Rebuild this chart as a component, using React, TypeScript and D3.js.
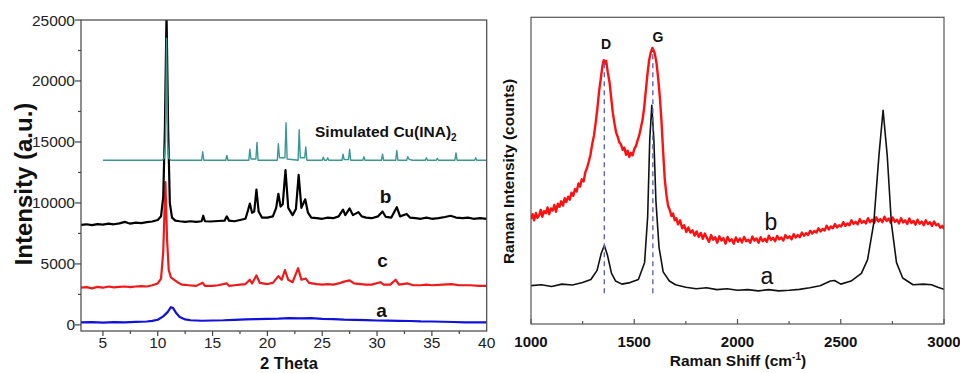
import React from 'react';
import * as d3 from 'd3';

type Pt = [number, number];

// ---- XRD panel (left) ----
const xrdXTicks = [5, 10, 15, 20, 25, 30, 35, 40];
const xrdYTicks = [0, 5000, 10000, 15000, 20000, 25000];

const simulated: Pt[] = [
  [5, 13500], [10.4, 13500], [10.6, 13700], [10.7, 15000], [10.8, 23500], [10.9, 15000], [11.0, 13700], [11.2, 13500],
  [14.0, 13500], [14.1, 14200], [14.2, 13500], [16.2, 13500], [16.3, 13900], [16.4, 13500],
  [18.3, 13500], [18.4, 14400], [18.5, 13600], [18.95, 13600], [19.05, 14950], [19.15, 13500],
  [20.9, 13500], [21.0, 14850], [21.1, 13700], [21.6, 13700], [21.7, 16580], [21.8, 13600],
  [22.8, 13500], [22.9, 16000], [23.0, 13700], [23.4, 13700], [23.5, 14600], [23.6, 13500],
  [25.0, 13500], [25.1, 13750], [25.2, 13500], [25.4, 13500], [25.5, 13700], [25.6, 13500],
  [26.8, 13500], [26.9, 14000], [27.0, 13550], [27.4, 13550], [27.5, 14400], [27.6, 13500],
  [28.7, 13500], [28.8, 13800], [28.9, 13500], [30.4, 13500], [30.5, 14000], [30.6, 13500],
  [31.7, 13500], [31.8, 14300], [31.9, 13500], [32.7, 13500], [32.8, 13800], [32.9, 13600], [33.2, 13500],
  [34.4, 13500], [34.5, 13700], [34.6, 13500], [35.4, 13500], [35.5, 13650], [35.6, 13500],
  [37.1, 13500], [37.2, 14100], [37.3, 13500], [38.9, 13500], [39.0, 13700], [39.1, 13500], [40, 13500],
];

const sampleB: Pt[] = [
  [3, 8200], [3.5, 8250], [4, 8180], [4.5, 8260], [5, 8220], [5.5, 8300], [6, 8250], [6.5, 8320], [7, 8450],
  [7.3, 8350], [7.5, 8300], [8, 8380], [8.5, 8350], [9, 8420], [9.5, 8480], [10, 8600], [10.3, 8900],
  [10.5, 10500], [10.65, 16000], [10.8, 25500], [10.95, 16000], [11.1, 10000], [11.3, 8800], [11.6, 8550],
  [12, 8500], [12.5, 8450], [13, 8500], [13.5, 8450], [14, 8500], [14.15, 8950], [14.3, 8500], [14.8, 8480],
  [15.5, 8520], [16.1, 8550], [16.3, 8900], [16.5, 8550], [17, 8500], [17.5, 8600], [18, 8700], [18.2, 9300],
  [18.4, 9950], [18.6, 9200], [18.8, 9300], [19.0, 11100], [19.2, 9300], [19.5, 8800], [20, 8800], [20.5, 8900],
  [20.8, 9600], [21.0, 10750], [21.2, 9700], [21.4, 9900], [21.65, 12700], [21.9, 9600], [22.3, 9000],
  [22.6, 9500], [22.85, 12300], [23.1, 9600], [23.45, 10300], [23.7, 9200], [24, 8800], [24.5, 8750],
  [25, 8700], [25.5, 8800], [26, 8750], [26.5, 8900], [26.9, 9450], [27.1, 9000], [27.5, 9550], [27.8, 9000],
  [28.3, 9250], [28.6, 8900], [29, 8800], [29.5, 8750], [30.1, 8900], [30.5, 9300], [30.8, 8850], [31.3, 8800],
  [31.8, 9650], [32.1, 8900], [32.7, 9100], [33, 8800], [33.5, 8750], [34, 8700], [34.5, 8800], [35, 8700],
  [35.6, 8750], [36.2, 8850], [36.7, 8950], [37.2, 8800], [37.8, 8750], [38.3, 8800], [38.8, 8700],
  [39.4, 8750], [40, 8700],
];

const sampleC: Pt[] = [
  [3, 3050], [3.5, 3100], [4, 3000], [4.5, 3120], [5, 3050], [5.5, 3150], [6, 3080], [6.5, 3120], [7, 3150],
  [7.5, 3100], [8, 3150], [8.5, 3180], [9, 3150], [9.5, 3250], [10, 3400], [10.3, 3800], [10.5, 6000],
  [10.7, 11700], [10.85, 7000], [11.0, 4500], [11.2, 3900], [11.5, 3700], [11.8, 3500], [12.2, 3300],
  [12.8, 3250], [13.5, 3200], [14.1, 3450], [14.3, 3200], [15, 3200], [15.5, 3250], [16.3, 3400], [16.5, 3200],
  [17, 3250], [17.5, 3300], [18, 3350], [18.4, 3700], [18.6, 3400], [19.0, 4050], [19.3, 3450], [20, 3350],
  [20.5, 3450], [21.0, 4000], [21.3, 3700], [21.6, 4500], [21.9, 3700], [22.3, 3500], [22.8, 4650],
  [23.1, 3700], [23.5, 3800], [23.8, 3450], [24.5, 3350], [25, 3300], [25.5, 3350], [26, 3300], [26.5, 3400],
  [27, 3550], [27.5, 3650], [27.9, 3400], [28.5, 3350], [29, 3300], [29.5, 3300], [30.3, 3500], [30.6, 3300],
  [31.2, 3300], [31.7, 3700], [32, 3300], [32.8, 3400], [33.3, 3250], [34, 3250], [34.5, 3300], [35, 3250],
  [36, 3300], [36.8, 3350], [37.5, 3250], [38.5, 3250], [39.3, 3200], [40, 3200],
];

const sampleA: Pt[] = [
  [3, 200], [4, 220], [5, 190], [6, 230], [7, 210], [8, 250], [9, 280], [9.5, 330], [10, 420], [10.5, 700],
  [10.9, 1050], [11.2, 1450], [11.4, 1380], [11.7, 950], [12, 650], [12.5, 450], [13, 380], [14, 340],
  [15, 360], [16, 380], [17, 420], [18, 450], [19, 480], [20, 500], [21, 520], [22, 560], [23, 530],
  [24, 560], [25, 500], [26, 480], [27, 440], [28, 420], [29, 390], [30, 360], [31, 350], [32, 330],
  [33, 320], [34, 290], [35, 280], [36, 260], [37, 240], [38, 200], [39, 210], [40, 200],
];

// ---- Raman panel (right) ----
const ramanXTicks = [1000, 1500, 2000, 2500, 3000];
const bandLines = [
  { name: 'D', shift: 1355, top: 850 },
  { name: 'G', shift: 1590, top: 895 },
];

const ramanA: Pt[] = [
  [1000, 125], [1050, 128], [1100, 122], [1150, 130], [1200, 127], [1250, 135], [1290, 145], [1320, 175],
  [1340, 230], [1355, 256], [1370, 225], [1390, 165], [1410, 140], [1440, 130], [1480, 135], [1520, 145],
  [1550, 200], [1565, 350], [1575, 600], [1585, 713], [1595, 600], [1605, 400], [1620, 250], [1640, 170],
  [1670, 140], [1700, 128], [1750, 120], [1800, 115], [1850, 118], [1900, 112], [1950, 115], [2000, 110],
  [2050, 112], [2100, 108], [2150, 112], [2200, 108], [2250, 110], [2300, 113], [2350, 118], [2400, 125],
  [2450, 140], [2470, 142], [2500, 130], [2550, 140], [2600, 165], [2630, 210], [2660, 330], [2685, 550],
  [2705, 697], [2725, 550], [2745, 330], [2770, 200], [2800, 150], [2850, 128], [2900, 130], [2940, 128],
  [2970, 120], [3000, 113],
];

const ramanB: Pt[] = [
  [1000, 342], [1008, 358], [1015, 338], [1024, 362], [1031, 346], [1040, 355], [1047, 372], [1055, 350],
  [1063, 368], [1072, 361], [1080, 380], [1088, 358], [1097, 377], [1105, 370], [1113, 388], [1121, 366],
  [1130, 392], [1138, 382], [1146, 400], [1155, 386], [1163, 410], [1171, 398], [1180, 415], [1188, 405],
  [1196, 428], [1205, 418], [1213, 440], [1221, 432], [1230, 458], [1238, 448], [1246, 472], [1255, 465],
  [1263, 495], [1271, 508], [1280, 530], [1288, 552], [1296, 585], [1305, 615], [1313, 655], [1321, 700],
  [1330, 760], [1338, 800], [1346, 842], [1352, 860], [1358, 848], [1364, 858], [1372, 820], [1380, 790],
  [1388, 740], [1396, 690], [1404, 655], [1412, 625], [1420, 610], [1428, 592], [1436, 585], [1444, 568],
  [1452, 575], [1460, 552], [1468, 565], [1476, 545], [1484, 558], [1492, 550], [1500, 570], [1508, 580],
  [1516, 598], [1524, 615], [1532, 640], [1540, 665], [1548, 705], [1556, 760], [1564, 815], [1572, 860],
  [1580, 885], [1588, 900], [1594, 892], [1600, 880], [1608, 850], [1616, 800], [1624, 740], [1632, 660],
  [1640, 560], [1648, 470], [1656, 420], [1664, 385], [1672, 372], [1680, 352], [1688, 360], [1696, 338],
  [1704, 345], [1712, 325], [1722, 338], [1732, 312], [1742, 322], [1752, 300], [1762, 315], [1772, 298],
  [1782, 306], [1792, 288], [1802, 302], [1812, 284], [1822, 297], [1832, 278], [1842, 295], [1852, 280],
  [1862, 268], [1872, 290], [1882, 275], [1892, 283], [1902, 265], [1912, 286], [1922, 272], [1932, 280],
  [1942, 262], [1952, 284], [1962, 270], [1972, 276], [1982, 262], [1992, 282], [2002, 268], [2012, 279],
  [2022, 266], [2032, 284], [2042, 270], [2052, 275], [2062, 265], [2072, 285], [2082, 272], [2092, 279],
  [2102, 265], [2112, 283], [2122, 270], [2132, 278], [2142, 268], [2152, 288], [2162, 274], [2172, 281],
  [2182, 270], [2192, 287], [2202, 276], [2212, 282], [2222, 272], [2232, 290], [2242, 280], [2252, 286],
  [2262, 276], [2272, 293], [2282, 282], [2292, 290], [2302, 283], [2312, 298], [2322, 288], [2332, 296],
  [2342, 290], [2352, 304], [2362, 295], [2372, 303], [2382, 298], [2392, 312], [2402, 302], [2412, 310],
  [2422, 305], [2432, 320], [2442, 308], [2452, 318], [2462, 312], [2472, 326], [2482, 315], [2492, 322],
  [2502, 318], [2512, 332], [2522, 320], [2532, 328], [2542, 322], [2552, 338], [2562, 326], [2572, 333],
  [2582, 325], [2592, 342], [2602, 330], [2612, 336], [2622, 328], [2632, 345], [2642, 332], [2652, 340],
  [2662, 330], [2672, 348], [2682, 334], [2692, 342], [2702, 332], [2712, 350], [2722, 336], [2732, 344],
  [2742, 330], [2752, 347], [2762, 333], [2772, 340], [2782, 328], [2792, 345], [2802, 331], [2812, 338],
  [2822, 326], [2832, 344], [2842, 329], [2852, 336], [2862, 324], [2872, 340], [2882, 327], [2892, 334],
  [2902, 322], [2912, 338], [2922, 326], [2932, 332], [2942, 320], [2952, 334], [2962, 322], [2972, 326],
  [2982, 314], [2992, 320], [3000, 310],
];

const FONT = 'Liberation Sans, Arial, Helvetica, sans-serif';

export default function App() {
  // left panel geometry
  const L = { left: 81, right: 486.7, top: 20, bottom: 331 };
  const x1 = d3.scaleLinear().domain([3, 40]).range([L.left, L.right]);
  const y1 = d3.scaleLinear().domain([-500, 25000]).range([L.bottom, L.top]);
  const line1 = d3.line<Pt>().x(d => x1(d[0])).y(d => y1(d[1]));
  const xMinor = d3.range(5, 40, 2.5);
  const yMinor = d3.range(0, 25001, 2500);

  // right panel geometry
  const R = { left: 531, right: 944, top: 17.3, bottom: 324 };
  const x2 = d3.scaleLinear().domain([1000, 3000]).range([R.left, R.right]);
  const y2 = d3.scaleLinear().domain([0, 1000]).range([R.bottom, R.top]);
  const line2 = d3.line<Pt>().x(d => x2(d[0])).y(d => y2(d[1]));
  const rMinor = d3.range(1000, 3001, 250);

  return (
    <svg width={960} height={373} style={{ position: 'absolute', left: 0, top: 0, background: '#fff' }} fontFamily={FONT}>
      <defs>
        <clipPath id="clipL">
          <rect x={L.left} y={L.top} width={L.right - L.left} height={L.bottom - L.top} />
        </clipPath>
        <clipPath id="clipR">
          <rect x={R.left} y={R.top} width={R.right - R.left} height={R.bottom - R.top} />
        </clipPath>
      </defs>

      {/* ---------- left: XRD ---------- */}
      <g clipPath="url(#clipL)" fill="none" strokeLinejoin="round">
        <path d={line1(sampleA) ?? ''} stroke="#1010e0" strokeWidth={2.2} />
        <path d={line1(sampleC) ?? ''} stroke="#f01818" strokeWidth={2.2} />
        <path d={line1(sampleB) ?? ''} stroke="#000" strokeWidth={2.2} />
        <path d={line1(simulated) ?? ''} stroke="#3a9894" strokeWidth={1.4} />
      </g>
      <rect x={L.left} y={L.top} width={L.right - L.left} height={L.bottom - L.top} fill="none" stroke="#444" strokeWidth={1.2} />
      {yMinor.map(v => (
        <line key={'ym' + v} x1={L.left} x2={L.left - (v % 5000 === 0 ? 6 : 3)} y1={y1(v)} y2={y1(v)} stroke="#444" strokeWidth={1.2} />
      ))}
      {xMinor.map(v => (
        <line key={'xm' + v} y1={L.bottom} y2={L.bottom + (v % 5 === 0 ? 5 : 3)} x1={x1(v)} x2={x1(v)} stroke="#444" strokeWidth={1.2} />
      ))}
      {xrdYTicks.map(v => (
        <text key={'yt' + v} x={75} y={y1(v) + 5.5} textAnchor="end" fontSize={15.5} fill="#222">{v}</text>
      ))}
      {xrdXTicks.map(v => (
        <text key={'xt' + v} x={x1(v)} y={348} textAnchor="middle" fontSize={15.5} fill="#222">{v}</text>
      ))}
      <text transform="translate(32,184) rotate(-90)" textAnchor="middle" fontSize={24} fontWeight="bold" fill="#111">Intensity (a.u.)</text>
      <text x={289} y={368.5} textAnchor="middle" fontSize={16.5} fontWeight="bold" fill="#111">2 Theta</text>
      <text x={315} y={136.5} fontSize={15.5} fontWeight="bold" fill="#111">
        Simulated Cu(INA)<tspan fontSize={10} dy={4}>2</tspan>
      </text>
      <text x={385.5} y={203} textAnchor="middle" fontSize={19} fontWeight="bold" fill="#111">b</text>
      <text x={382.5} y={267} textAnchor="middle" fontSize={19} fontWeight="bold" fill="#111">c</text>
      <text x={381.5} y={316.5} textAnchor="middle" fontSize={19} fontWeight="bold" fill="#111">a</text>

      {/* ---------- right: Raman ---------- */}
      <g clipPath="url(#clipR)" fill="none" strokeLinejoin="round">
        <path d={line2(ramanB) ?? ''} stroke="#ff1010" strokeWidth={2.4} />
        <path d={line2(ramanA) ?? ''} stroke="#111" strokeWidth={1.6} />
      </g>
      {bandLines.map(b => (
        <g key={b.name}>
          <line x1={x2(b.shift)} x2={x2(b.shift)} y1={y2(100)} y2={y2(b.top)} stroke="#5b68b0" strokeWidth={1.4} strokeDasharray="5,4" />
        </g>
      ))}
      <text x={606} y={49.3} textAnchor="middle" fontSize={14} fontWeight="bold" fill="#111">D</text>
      <text x={658} y={41.7} textAnchor="middle" fontSize={14} fontWeight="bold" fill="#111">G</text>
      <rect x={R.left} y={R.top} width={R.right - R.left} height={R.bottom - R.top} fill="none" stroke="#555" strokeWidth={1.2} />
      {rMinor.map(v => (
        <line key={'rm' + v} x1={x2(v)} x2={x2(v)} y1={R.bottom} y2={R.bottom - (v % 500 === 0 ? 5 : 3)} stroke="#555" strokeWidth={1.2} />
      ))}
      {ramanXTicks.map(v => (
        <text key={'rt' + v} x={x2(v)} y={347} textAnchor="middle" fontSize={15} fontWeight="bold" fill="#111">{v}</text>
      ))}
      <text x={738} y={366} textAnchor="middle" fontSize={15.5} fontWeight="bold" fill="#111">
        Raman Shiff (cm<tspan fontSize={10} dy={-6}>-1</tspan><tspan dy={6}>)</tspan>
      </text>
      <text transform="translate(514,171.5) rotate(-90)" textAnchor="middle" fontSize={15.5} fontWeight="bold" fill="#111">Raman Intensity (counts)</text>
      <text x={771} y={230} textAnchor="middle" fontSize={23} fill="#111">b</text>
      <text x={767} y={284} textAnchor="middle" fontSize={23} fill="#111">a</text>
    </svg>
  );
}
